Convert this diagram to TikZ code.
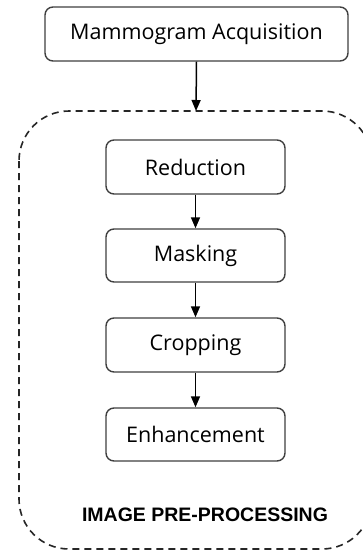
\documentclass[tikz,border=0pt]{standalone}
\usepackage{fontspec}
\setmainfont{Open Sans}
\newfontfamily\labelfont{Liberation Sans}
\usetikzlibrary{arrows.meta}
\begin{document}
\begin{tikzpicture}[x=1pt,y=-1pt,
  stepbox/.style={draw=black!75, line width=1.4pt, rounded corners=8pt, fill=white,
    minimum height=54pt, inner sep=0pt, font=\fontsize{21.5}{24}\selectfont, text=black},
  arr/.style={-{Triangle[length=11pt,width=9pt]}, line width=1.5pt, black},
  groupbox/.style={draw=black!85, line width=1.6pt, dash pattern=on 7pt off 5pt, rounded corners=50pt}
]
\useasboundingbox (0,0) rectangle (362,552);
\fill[white] (0,0) rectangle (362,552);
\draw[groupbox] (19,111) rectangle (372,549);
\coordinate (gtop) at (196,111);
\node[stepbox, minimum width=303pt] (acq) at (196.5,34) {Mammogram Acquisition};
\node[stepbox, minimum width=179pt] (red) at (195.5,167) {Reduction};
\node[stepbox, minimum width=179pt, minimum height=53pt] (mask) at (195.5,255.5) {Masking};
\node[stepbox, minimum width=179pt] (crop) at (195.5,345) {Cropping};
\node[stepbox, minimum width=179pt, minimum height=53pt] (enh) at (195.5,434.5) {Enhancement};
\node[font=\labelfont\bfseries\fontsize{19.5}{22}\selectfont, text=black] (lbl) at (205,515) {IMAGE PRE-PROCESSING};
\draw[arr] (acq.south) -- (gtop);
\draw[arr] (red.south) -- (mask.north);
\draw[arr] (mask.south) -- (crop.north);
\draw[arr] (crop.south) -- (enh.north);
\end{tikzpicture}
\end{document}
